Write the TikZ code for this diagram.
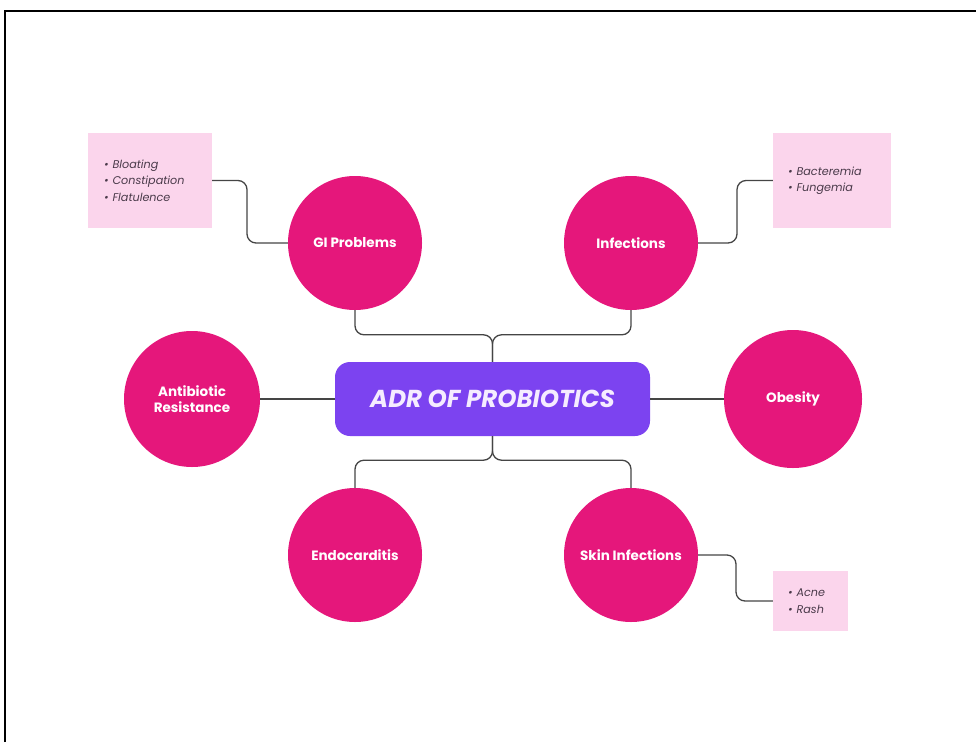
\documentclass[tikz,border=0pt]{standalone}
\usepackage{fontspec}
\setmainfont{Poppins}
\usetikzlibrary{calc}
\definecolor{circ}{HTML}{E5177B}
\definecolor{boxpink}{HTML}{FBD5EC}
\definecolor{purp}{HTML}{7C43F0}
\definecolor{titlec}{HTML}{F5ECFF}
\definecolor{linec}{HTML}{454545}
\definecolor{listc}{HTML}{4A3A4A}
\tikzset{
  topic/.style={circle, fill=circ, minimum size=134pt, inner sep=0pt, text=white, font=\bfseries\fontsize{13.5}{16}\selectfont, align=center},
  listbox/.style={fill=boxpink, inner sep=0pt, text=listc, font=\itshape\fontsize{11.2}{16.5}\selectfont, align=left},
  conn/.style={draw=linec, line width=1.3pt, rounded corners=9pt},
  frame/.style={draw=black, line width=1.6pt}
}
\newcommand{\itm}{\textbullet\hspace{0.35em}}
\begin{document}
\begin{tikzpicture}[x=1pt,y=-1pt]
\useasboundingbox (0,0) rectangle (976,742);
\draw[frame] (5,742) -- (5,11) -- (976,11);
% central box
\node[fill=purp, rounded corners=15pt, minimum width=315pt, minimum height=74pt, inner sep=0pt,
  text=titlec, font=\bfseries\itshape\fontsize{24.5}{26}\selectfont] (adr) at (492.5,399) {ADR OF PROBIOTICS};
% topics
\node[topic] (gi) at (355,243) {GI Problems};
\node[topic] (inf) at (631,243) {Infections};
\node[topic, minimum size=136pt] (ab) at (192,399) {Antibiotic\\Resistance};
\node[topic, minimum size=138pt] (ob) at (793,399) {Obesity};
\node[topic] (endo) at (355,555) {Endocarditis};
\node[topic] (skin) at (631,555) {Skin Infections};
% list boxes
\node[listbox, minimum width=124pt, minimum height=95pt, text width=92pt] (gibox) at (150,180.5)
  {\itm Bloating\\ \itm Constipation\\ \itm Flatulence};
\node[listbox, minimum width=118pt, minimum height=95pt, text width=88pt] (infbox) at (832,180.5)
  {\itm Bacteremia\\ \itm Fungemia};
\node[listbox, minimum width=75pt, minimum height=60pt, text width=45pt] (skinbox) at (810.5,601)
  {\itm Acne\\ \itm Rash};
% connectors
\draw[conn] (gi.south) |- ($(adr.north)+(0,-27)$) -- (adr.north);
\draw[conn] (inf.south) |- ($(adr.north)+(0,-27)$) -- (adr.north);
\draw[conn] (adr.south) -- ($(adr.south)+(0,24)$) -| (endo.north);
\draw[conn] (adr.south) -- ($(adr.south)+(0,24)$) -| (skin.north);
\draw[conn] (ab.east) -- (adr.west);
\draw[conn] (adr.east) -- (ob.west);
\draw[conn] (gibox.east) -- (247,180.5) |- (gi.west);
\draw[conn] (inf.east) -- (737,243) |- (infbox.west);
\draw[conn] (skin.east) -- (736,555) |- (skinbox.west);
\end{tikzpicture}
\end{document}
